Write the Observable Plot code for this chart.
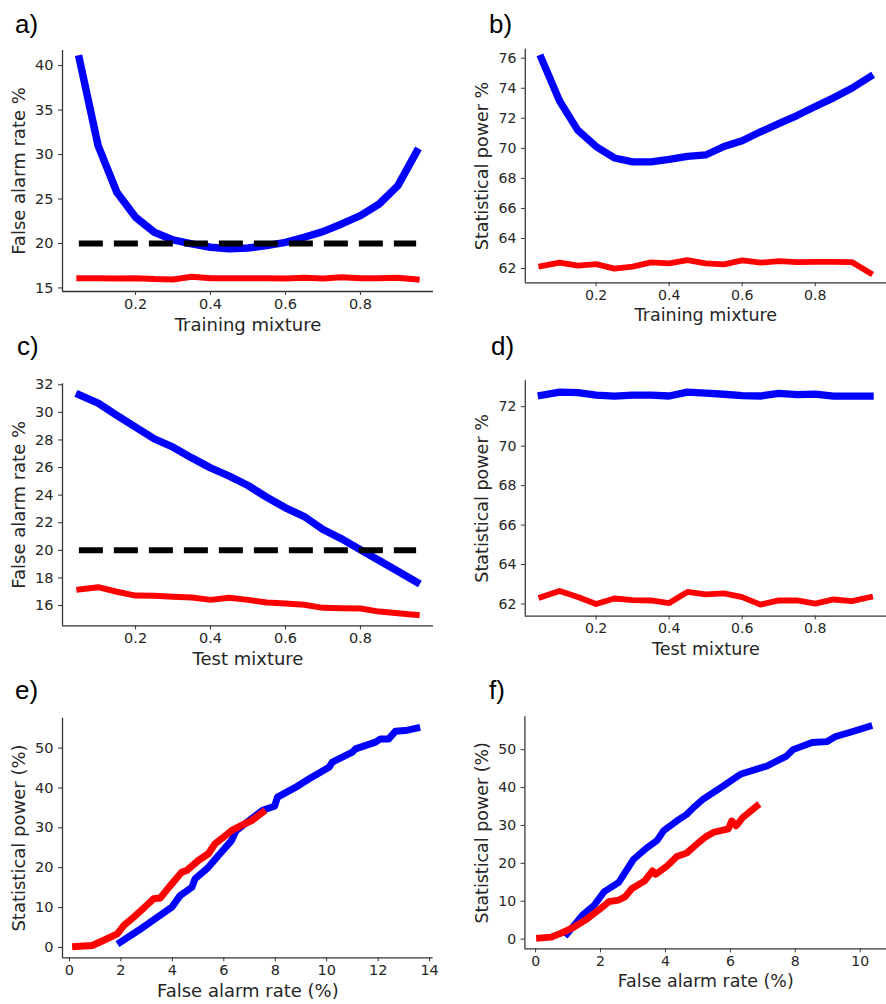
<!DOCTYPE html>
<html><head><meta charset="utf-8">
<script src="https://cdn.jsdelivr.net/npm/d3@7"></script>
<script src="https://cdn.jsdelivr.net/npm/@observablehq/plot@0.6"></script>
<style>
html,body{margin:0;padding:0;background:#fff;overflow:hidden;}
#fig{position:relative;width:886px;height:1004px;overflow:hidden;background:#fff;}
.panel{position:absolute;}
.tag{position:absolute;font-family:"Liberation Sans",Arial,sans-serif;font-size:26px;line-height:26px;color:#000;white-space:nowrap;}
</style></head><body><div id="fig"></div>
<script>
// ---------- data ----------
const mixture = [0.05,0.10,0.15,0.20,0.25,0.30,0.35,0.40,0.45,0.50,0.55,0.60,0.65,0.70,0.75,0.80,0.85,0.90,0.95];
const alphaLevel = 20;

// a) False alarm rate vs training mixture
const aBlue = [40.75,31.0,25.76,22.95,21.26,20.4,19.95,19.57,19.4,19.5,19.76,20.13,20.7,21.33,22.2,23.13,24.44,26.5,30.33];
const aRed  = [16.1,16.1,16.05,16.1,16.0,15.95,16.25,16.1,16.1,16.1,16.1,16.05,16.15,16.05,16.2,16.1,16.1,16.15,15.95];
// b) Statistical power vs training mixture
const bBlue = [76.0,73.15,71.2,70.12,69.36,69.1,69.1,69.26,69.47,69.56,70.12,70.5,71.1,71.64,72.18,72.78,73.36,74.0,74.77];
const bRed  = [62.17,62.39,62.19,62.3,62.0,62.13,62.41,62.35,62.56,62.35,62.28,62.54,62.39,62.5,62.43,62.45,62.45,62.43,61.7];
// c) False alarm rate vs test mixture
const cBlue = [31.27,30.67,29.78,28.93,28.08,27.48,26.7,25.98,25.38,24.7,23.85,23.08,22.45,21.51,20.83,20.04,19.26,18.49,17.69];
const cRed  = [17.16,17.33,17.0,16.72,16.7,16.63,16.58,16.41,16.56,16.41,16.22,16.15,16.05,15.83,15.81,15.78,15.56,15.44,15.32];
// d) Statistical power vs test mixture
const dBlue = [72.58,72.74,72.71,72.58,72.53,72.59,72.59,72.54,72.74,72.69,72.63,72.56,72.54,72.67,72.61,72.64,72.53,72.53,72.53];
const dRed  = [62.35,62.66,62.35,62.0,62.28,62.2,62.18,62.05,62.61,62.49,62.54,62.35,61.97,62.18,62.18,62.02,62.23,62.15,62.35];
// e) ROC-type curves
const eBlueX = [1.98,2.69,3.34,3.98,4.3,4.76,4.88,5.4,5.85,6.3,6.48,7.0,7.51,7.97,8.09,8.8,9.32,10.09,10.22,11.0,11.12,11.9,12.09,12.41,12.67,13.06,13.5];
const eBlueY = [1.3,4.3,7.2,10.1,13.0,15.1,17.2,20.1,23.5,26.8,29.3,31.9,34.4,35.4,37.7,40.2,42.3,45.2,46.5,49.0,49.8,51.5,52.3,52.3,54.2,54.4,55.0];
const eRedX  = [0.24,0.89,1.4,1.86,2.11,2.5,2.89,3.27,3.53,3.92,4.37,4.56,5.01,5.4,5.66,5.92,6.3,6.69,7.08,7.51];
const eRedY  = [0.25,0.5,2.0,3.4,5.5,7.6,9.9,12.2,12.4,15.5,18.9,19.3,21.8,23.5,26.0,27.3,29.3,30.6,31.8,33.9];
// f) ROC-type curves
const fBlueX = [0.97,1.46,1.81,2.11,2.56,3.01,3.41,3.75,3.95,4.35,4.65,4.85,5.14,5.74,6.33,7.13,7.73,7.93,8.52,8.97,9.22,9.72,10.27];
const fBlueY = [1.4,6.5,9.0,12.5,15.0,21.0,24.0,26.1,28.7,31.2,32.9,34.6,36.8,40.2,43.6,45.7,48.3,50.0,51.9,52.1,53.4,54.7,56.1];
const fRedX  = [0.12,0.47,0.77,1.17,1.56,1.96,2.26,2.56,2.76,2.96,3.36,3.6,3.7,4.05,4.35,4.65,5.05,5.24,5.49,5.94,6.04,6.18,6.38,6.81];
const fRedY  = [0.26,0.5,1.5,3.1,5.2,7.8,9.9,10.3,11.2,13.3,15.4,18.0,17.1,19.3,21.8,22.7,25.7,27.0,28.2,29.1,31.2,29.9,32.1,35.1];

// tick labels
const mixTicks = [0.2,0.4,0.6,0.8];
const aYTicks = [15,20,25,30,35,40];
const bYTicks = [62,64,66,68,70,72,74,76];
const cYTicks = [16,18,20,22,24,26,28,30,32];
const dYTicks = [62,64,66,68,70,72];
const eXTicks = [0,2,4,6,8,10,12,14];
const fXTicks = [0,2,4,6,8,10];
const rocYTicks = [0,10,20,30,40,50];

const labels = {
  trainX: "Training mixture", testX: "Test mixture", far: "False alarm rate %",
  power: "Statistical power %", rocX: "False alarm rate (%)", rocY: "Statistical power (%)"
};

// ---------- drawing ----------
const AXIS = "#333";
const fig = document.getElementById("fig");

function lineMark(ys, xs, color, w) {
  return Plot.line(ys, {x: xs, y: Plot.identity, stroke: color, strokeWidth: w,
    strokeLinejoin: "round", strokeLinecap: "square"});
}

function panel(o) {
  const [mt, mr, mb, ml] = o.margin;
  const chart = Plot.plot({
    width: o.width, height: o.height,
    marginTop: mt, marginRight: mr, marginBottom: mb, marginLeft: ml,
    style: {fontFamily: "'DejaVu Sans', sans-serif", fontSize: "14.5px", color: "#262626", background: "transparent", overflow: "visible"},
    x: {domain: o.xDomain, label: null},
    y: {domain: o.yDomain, label: null},
    marks: [
      ...o.marks,
      Plot.ruleX([o.xDomain[0]], {stroke: AXIS, strokeWidth: 1.3}),
      Plot.ruleY([o.yDomain[0]], {stroke: AXIS, strokeWidth: 1.3}),
      Plot.axisX({ticks: o.xTicks, tickSize: 4, tickPadding: 3, label: null, stroke: AXIS, fill: "#262626"}),
      Plot.axisY({ticks: o.yTicks, tickSize: 4, tickPadding: 5, label: null, stroke: AXIS, fill: "#262626"}),
      Plot.axisX({ticks: [], label: o.xLabel, labelAnchor: "center", labelOffset: o.xLabelOffset, labelArrow: false, fontSize: 18, fill: "#262626"}),
      Plot.axisY({ticks: [], label: o.yLabel, labelAnchor: "center", labelOffset: o.yLabelOffset, labelArrow: false, fontSize: 18, fill: "#262626"})
    ]
  });
  const wrap = document.createElement("div");
  wrap.className = "panel";
  wrap.style.left = o.left + "px";
  wrap.style.top = o.top + "px";
  wrap.appendChild(chart);
  fig.appendChild(wrap);
  const tag = document.createElement("div");
  tag.className = "tag";
  tag.textContent = o.tag;
  tag.style.left = o.tagPos[0] + "px";
  tag.style.top = o.tagPos[1] + "px";
  fig.appendChild(tag);
}

const dash = (xs) => Plot.ruleY([alphaLevel], {x1: xs[0], x2: xs[xs.length - 1], stroke: "#000", strokeWidth: 6, strokeDasharray: "24,11"});

// a
panel({left: 0, top: 0, width: 443, height: 340, margin: [50, 10, 49, 62],
  xDomain: [0.005, 0.995], yDomain: [14.6, 41.7], xTicks: mixTicks, yTicks: aYTicks,
  xLabel: labels.trainX, yLabel: labels.far, xLabelOffset: 39, yLabelOffset: 50,
  marks: [lineMark(aBlue, mixture, "#0000ff", 7.5), lineMark(aRed, mixture, "#ff0000", 6), dash(mixture)],
  tag: "a)", tagPos: [15, 11]});
// b
panel({left: 443, top: 0, width: 455, height: 340, margin: [50, 0, 50, 84],
  xDomain: [0.006, 0.995], yDomain: [61.05, 76.6], xTicks: mixTicks, yTicks: bYTicks,
  xLabel: labels.trainX, yLabel: labels.power, xLabelOffset: 39, yLabelOffset: 51,
  marks: [lineMark(bBlue, mixture, "#0000ff", 7.5), lineMark(bRed, mixture, "#ff0000", 6)],
  tag: "b)", tagPos: [489, 11]});
// c
panel({left: 0, top: 330, width: 443, height: 340, margin: [53.3, 10, 44.7, 62],
  xDomain: [0.005, 0.995], yDomain: [14.53, 32.07], xTicks: mixTicks, yTicks: cYTicks,
  xLabel: labels.testX, yLabel: labels.far, xLabelOffset: 39.5, yLabelOffset: 50,
  marks: [lineMark(cBlue, mixture, "#0000ff", 7.5), lineMark(cRed, mixture, "#ff0000", 6), dash(mixture)],
  tag: "c)", tagPos: [17, 333]});
// d
panel({left: 443, top: 330, width: 455, height: 340, margin: [51.7, 0, 46.7, 84],
  xDomain: [0.006, 0.995], yDomain: [61.39, 73.31], xTicks: mixTicks, yTicks: dYTicks,
  xLabel: labels.testX, yLabel: labels.power, xLabelOffset: 39.5, yLabelOffset: 51,
  marks: [lineMark(dBlue, mixture, "#0000ff", 7.5), lineMark(dRed, mixture, "#ff0000", 6)],
  tag: "d)", tagPos: [491, 333]});
// e
panel({left: 0, top: 670, width: 443, height: 334, margin: [47.7, 10.3, 46.7, 62],
  xDomain: [-0.27, 14.14], yDomain: [-2.6, 57.5], xTicks: eXTicks, yTicks: rocYTicks,
  xLabel: labels.rocX, yLabel: labels.rocY, xLabelOffset: 39.4, yLabelOffset: 50,
  marks: [lineMark(eBlueY, eBlueX, "#0000ff", 7), lineMark(eRedY, eRedX, "#ff0000", 7)],
  tag: "e)", tagPos: [15, 677]});
// f
panel({left: 443, top: 670, width: 457, height: 334, margin: [47.7, 0, 46.7, 84],
  xDomain: [-0.33, 10.81], yDomain: [-2.6, 58.7], xTicks: fXTicks, yTicks: rocYTicks,
  xLabel: labels.rocX, yLabel: labels.rocY, xLabelOffset: 39.4, yLabelOffset: 51,
  marks: [lineMark(fBlueY, fBlueX, "#0000ff", 7), lineMark(fRedY, fRedX, "#ff0000", 7)],
  tag: "f)", tagPos: [489, 677]});
</script></body></html>
